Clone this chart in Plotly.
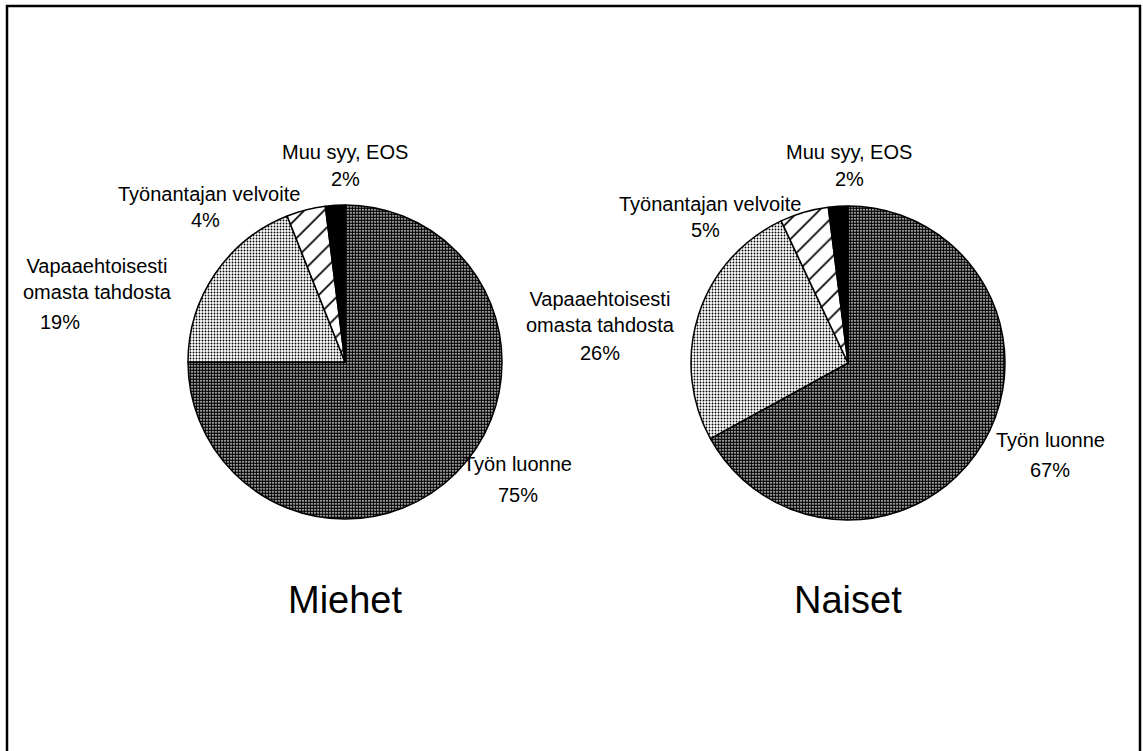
import plotly.graph_objects as go

# Data
categories = ["Työn luonne", "Vapaaehtoisesti<br>omasta tahdosta", "Työnantajan velvoite", "Muu syy, EOS"]
miehet_values = [75, 19, 4, 2]
naiset_values = [67, 26, 5, 2]
group_titles = ["Miehet", "Naiset"]

FONT = "Liberation Sans, Arial, sans-serif"
W, H = 1143, 751


def px_x(x):
    return x / W


def px_y(y):
    return 1 - y / H


slice_pattern = dict(
    shape=[".", ".", "/", ""],
    fgcolor=["black", "black", "black", "black"],
    bgcolor=["white", "white", "white", "black"],
    size=[3, 3, 14, 4],
    solidity=[0.75, 0.3, 0.12, 0.0],
)


def make_pie(values, domain, name):
    return go.Pie(
        labels=categories,
        values=values,
        name=name,
        sort=False,
        direction="clockwise",
        rotation=0,
        textinfo="none",
        hoverinfo="label+percent",
        showlegend=False,
        domain=domain,
        marker=dict(
            colors=["white", "white", "white", "black"],
            line=dict(color="black", width=1.5),
            pattern=slice_pattern,
        ),
    )


fig = go.Figure()
fig.add_trace(make_pie(miehet_values, dict(x=[px_x(188), px_x(502)], y=[px_y(519), px_y(205)]), group_titles[0]))
fig.add_trace(make_pie(naiset_values, dict(x=[px_x(691), px_x(1005)], y=[px_y(520), px_y(206)]), group_titles[1]))

# label positions (pixel centres of name line / percent line)
label_pos = [
    # Miehet
    [((517, 464), (518, 495)), ((97, 279), (60, 322)), ((209, 194), (205, 220)), ((345, 152), (345, 179))],
    # Naiset
    [((1050, 440), (1050, 470)), ((600, 312), (600, 353)), ((710, 204), (705, 230)), ((849, 152), (849, 179))],
]

annotations = []
for values, positions in zip([miehet_values, naiset_values], label_pos):
    for cat, v, (name_xy, pct_xy) in zip(categories, values, positions):
        annotations.append(dict(
            x=px_x(name_xy[0]), y=px_y(name_xy[1]), xref="paper", yref="paper",
            text=cat, showarrow=False, xanchor="center", yanchor="middle",
            font=dict(family=FONT, size=20, color="black"),
        ))
        annotations.append(dict(
            x=px_x(pct_xy[0]), y=px_y(pct_xy[1]), xref="paper", yref="paper",
            text=f"{v}%", showarrow=False, xanchor="center", yanchor="middle",
            font=dict(family=FONT, size=20, color="black"),
        ))

for title, cx in zip(group_titles, [345, 848]):
    annotations.append(dict(
        x=px_x(cx), y=px_y(600), xref="paper", yref="paper",
        text=title, showarrow=False, xanchor="center", yanchor="middle",
        font=dict(family=FONT, size=38, color="black"),
    ))

fig.update_layout(
    width=W, height=H,
    margin=dict(l=0, r=0, t=0, b=0),
    paper_bgcolor="white",
    plot_bgcolor="white",
    annotations=annotations,
    shapes=[dict(
        type="rect", xref="paper", yref="paper",
        x0=px_x(7), x1=px_x(1140), y0=px_y(760), y1=px_y(6),
        line=dict(color="black", width=2.5),
    )],
)

# the default page has an 8px body margin; drop it so the figure sits at 0,0
fig.write_html("out.html", config={"displayModeBar": False},
               post_script="document.body.style.margin='0';")
